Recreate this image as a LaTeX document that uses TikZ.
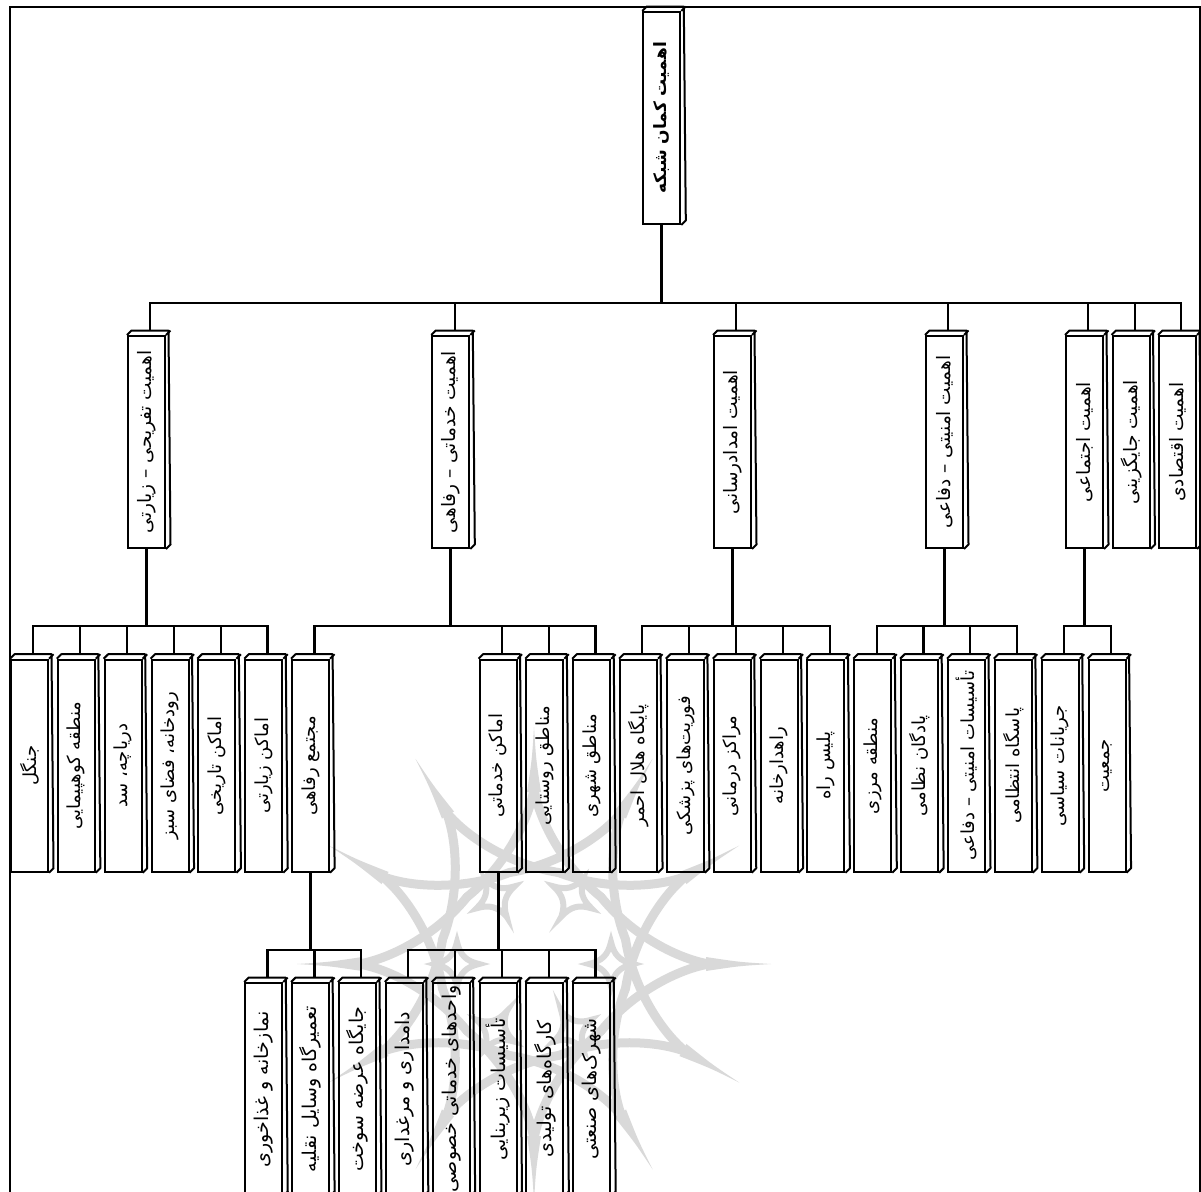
\documentclass[tikz,border=0pt]{standalone}
\usepackage{fontspec}
\usetikzlibrary{calc}
\TeXXeTstate=1
\newfontfamily\persian[Script=Arabic]{DejaVu Sans}
% box with a top and a side face: name, x, y, font size, text
\newcommand{\cube}[5]{
    \node[cubebox] (#1) at (#2,#3) {\rotatebox{90}{\fontsize{#4}{#4}\persian #5}};
    \draw[cubeside] (#1.north west) -- ++(4.5,-4.5) -- ++(37,0) -- ($(#1.south east)+(4.5,-4.5)$) -- (#1.south east);
    \draw[cubeside] (#1.north east) -- ++(4.5,-4.5);
    \coordinate (#1-top) at ($(#1.north)+(3.8,-4.5)$);
}
\tikzset{
    cubebox/.style={draw, line width=2pt, inner sep=0pt, minimum width=37pt, minimum height=212pt},
    cubeside/.style={line width=2pt, line join=round},
    link/.style={line width=2.2pt},
    trunk/.style={line width=3pt},
    emblem/.style={black!15},
    emblem arc/.style={emblem, line width=9pt, line cap=round}
}
\begin{document}
\begin{tikzpicture}[x=1pt, y=-1pt]
\path[use as bounding box, clip] (0,0) rectangle (1201,1191);
% faint emblem behind the tree
\foreach \a in {0,30,...,330} {
    \begin{scope}[shift={(534,964)}, rotate=\a]
        \fill[emblem] (237,0) .. controls (205,2) .. (172,7) -- (172,-7) .. controls (205,-2) .. cycle;
        \draw[emblem arc] (175,0) .. controls (140,6) and (95,32) .. (67,67);
        \draw[emblem arc] (175,0) .. controls (140,-6) and (95,-32) .. (67,-67);
    \end{scope}
}
\foreach \a in {0,60,...,300} {
    \begin{scope}[shift={(534,964)}, rotate=\a]
        \draw[emblem, line width=6pt] (55,0) .. controls (68,3) and (74,9) .. (77,22) .. controls (80,9) and (86,3) .. (99,0) .. controls (86,-3) and (80,-9) .. (77,-22) .. controls (74,-9) and (68,-3) .. cycle;
    \end{scope}
}
\draw[line width=2pt] (10,6.7) rectangle (1199.5,1210);
% top of the tree
\cube{kaman}{661.8}{118}{17}{\bfseries\beginR اهمیت کمان شبکه\endR}
\coordinate (busone) at (0,302.7);
\coordinate (bustwo) at (0,626);
\coordinate (busthree) at (0,950);
% first level
\foreach \x/\nm/\txt in {146.5/tafrihi/اهمیت تفریحی – زیارتی, 450.8/khadamati/اهمیت خدماتی – رفاهی, 732.5/emdadi/اهمیت امدادرسانی, 944.5/amniati/اهمیت امنیتی – دفاعی, 1084.5/ejtemaei/اهمیت اجتماعی, 1131/jaygozini/اهمیت جایگزینی, 1177.5/eqtesadi/اهمیت اقتصادی} {
    \cube{\nm}{\x}{442}{18.5}{\beginR\txt\endR}
}
% second level
\foreach \k/\nm/\txt in {0/jangal/جنگل, 1/kuh/منطقه کوهپیمایی, 2/darya/دریاچه، سد, 3/rud/رودخانه، فضای سبز, 4/tarikhi/اماکن تاریخی, 5/ziarati/اماکن زیارتی, 6/mojtama/مجتمع رفاهی, 10/amaken/اماکن خدماتی, 11/rusta/مناطق روستایی, 12/shahri/مناطق شهری, 13/helal/پایگاه هلال احمر, 14/fori/فوریت‌های پزشکی, 15/markaz/مراکز درمانی, 16/rahdar/راهدارخانه, 17/polis/پلیس راه, 18/marzi/منطقه مرزی, 19/padegan/پادگان نظامی, 20/tasisat/تأسیسات امنیتی – دفاعی, 21/pasgah/پاسگاه انتظامی, 22/jarayan/جریانات سیاسی, 23/jamiat/جمعیت} {
    \cube{\nm}{{29.5+46.85*\k}}{765.7}{18}{\beginR\txt\endR}
}
% third level, cut by the page
\foreach \k/\nm/\txt in {5/namaz/نمازخانه و غذاخوری, 6/tamir/تعمیرگاه وسایل نقلیه, 7/jaygah/جایگاه عرضه سوخت, 8/damdari/دامداری و مرغداری, 9/vahed/واحدهای خدماتی خصوصی, 10/zirbana/تأسیسات زیربنایی, 11/kargah/کارگاه‌های تولیدی, 12/shahrak/شهرک‌های صنعتی} {
    \cube{\nm}{{29.5+46.85*\k}}{1089}{19}{\beginR\txt\endR}
}
% connectors
\foreach \p/\bus/\kids in {kaman/busone/{tafrihi,khadamati,emdadi,amniati,ejtemaei,jaygozini,eqtesadi},
    tafrihi/bustwo/{jangal,kuh,darya,rud,tarikhi,ziarati}, khadamati/bustwo/{mojtama,amaken,rusta,shahri},
    emdadi/bustwo/{helal,fori,markaz,rahdar,polis}, amniati/bustwo/{marzi,padegan,tasisat,pasgah},
    ejtemaei/bustwo/{jarayan,jamiat}, mojtama/busthree/{namaz,tamir,jaygah},
    amaken/busthree/{damdari,vahed,zirbana,kargah,shahrak}} {
    \draw[trunk] (\p.south) -- (\p.south |- \bus);
    \foreach \c in \kids {
        \draw[link] (\p.south |- \bus) -| (\c-top);
    }
}
\end{tikzpicture}
\end{document}
